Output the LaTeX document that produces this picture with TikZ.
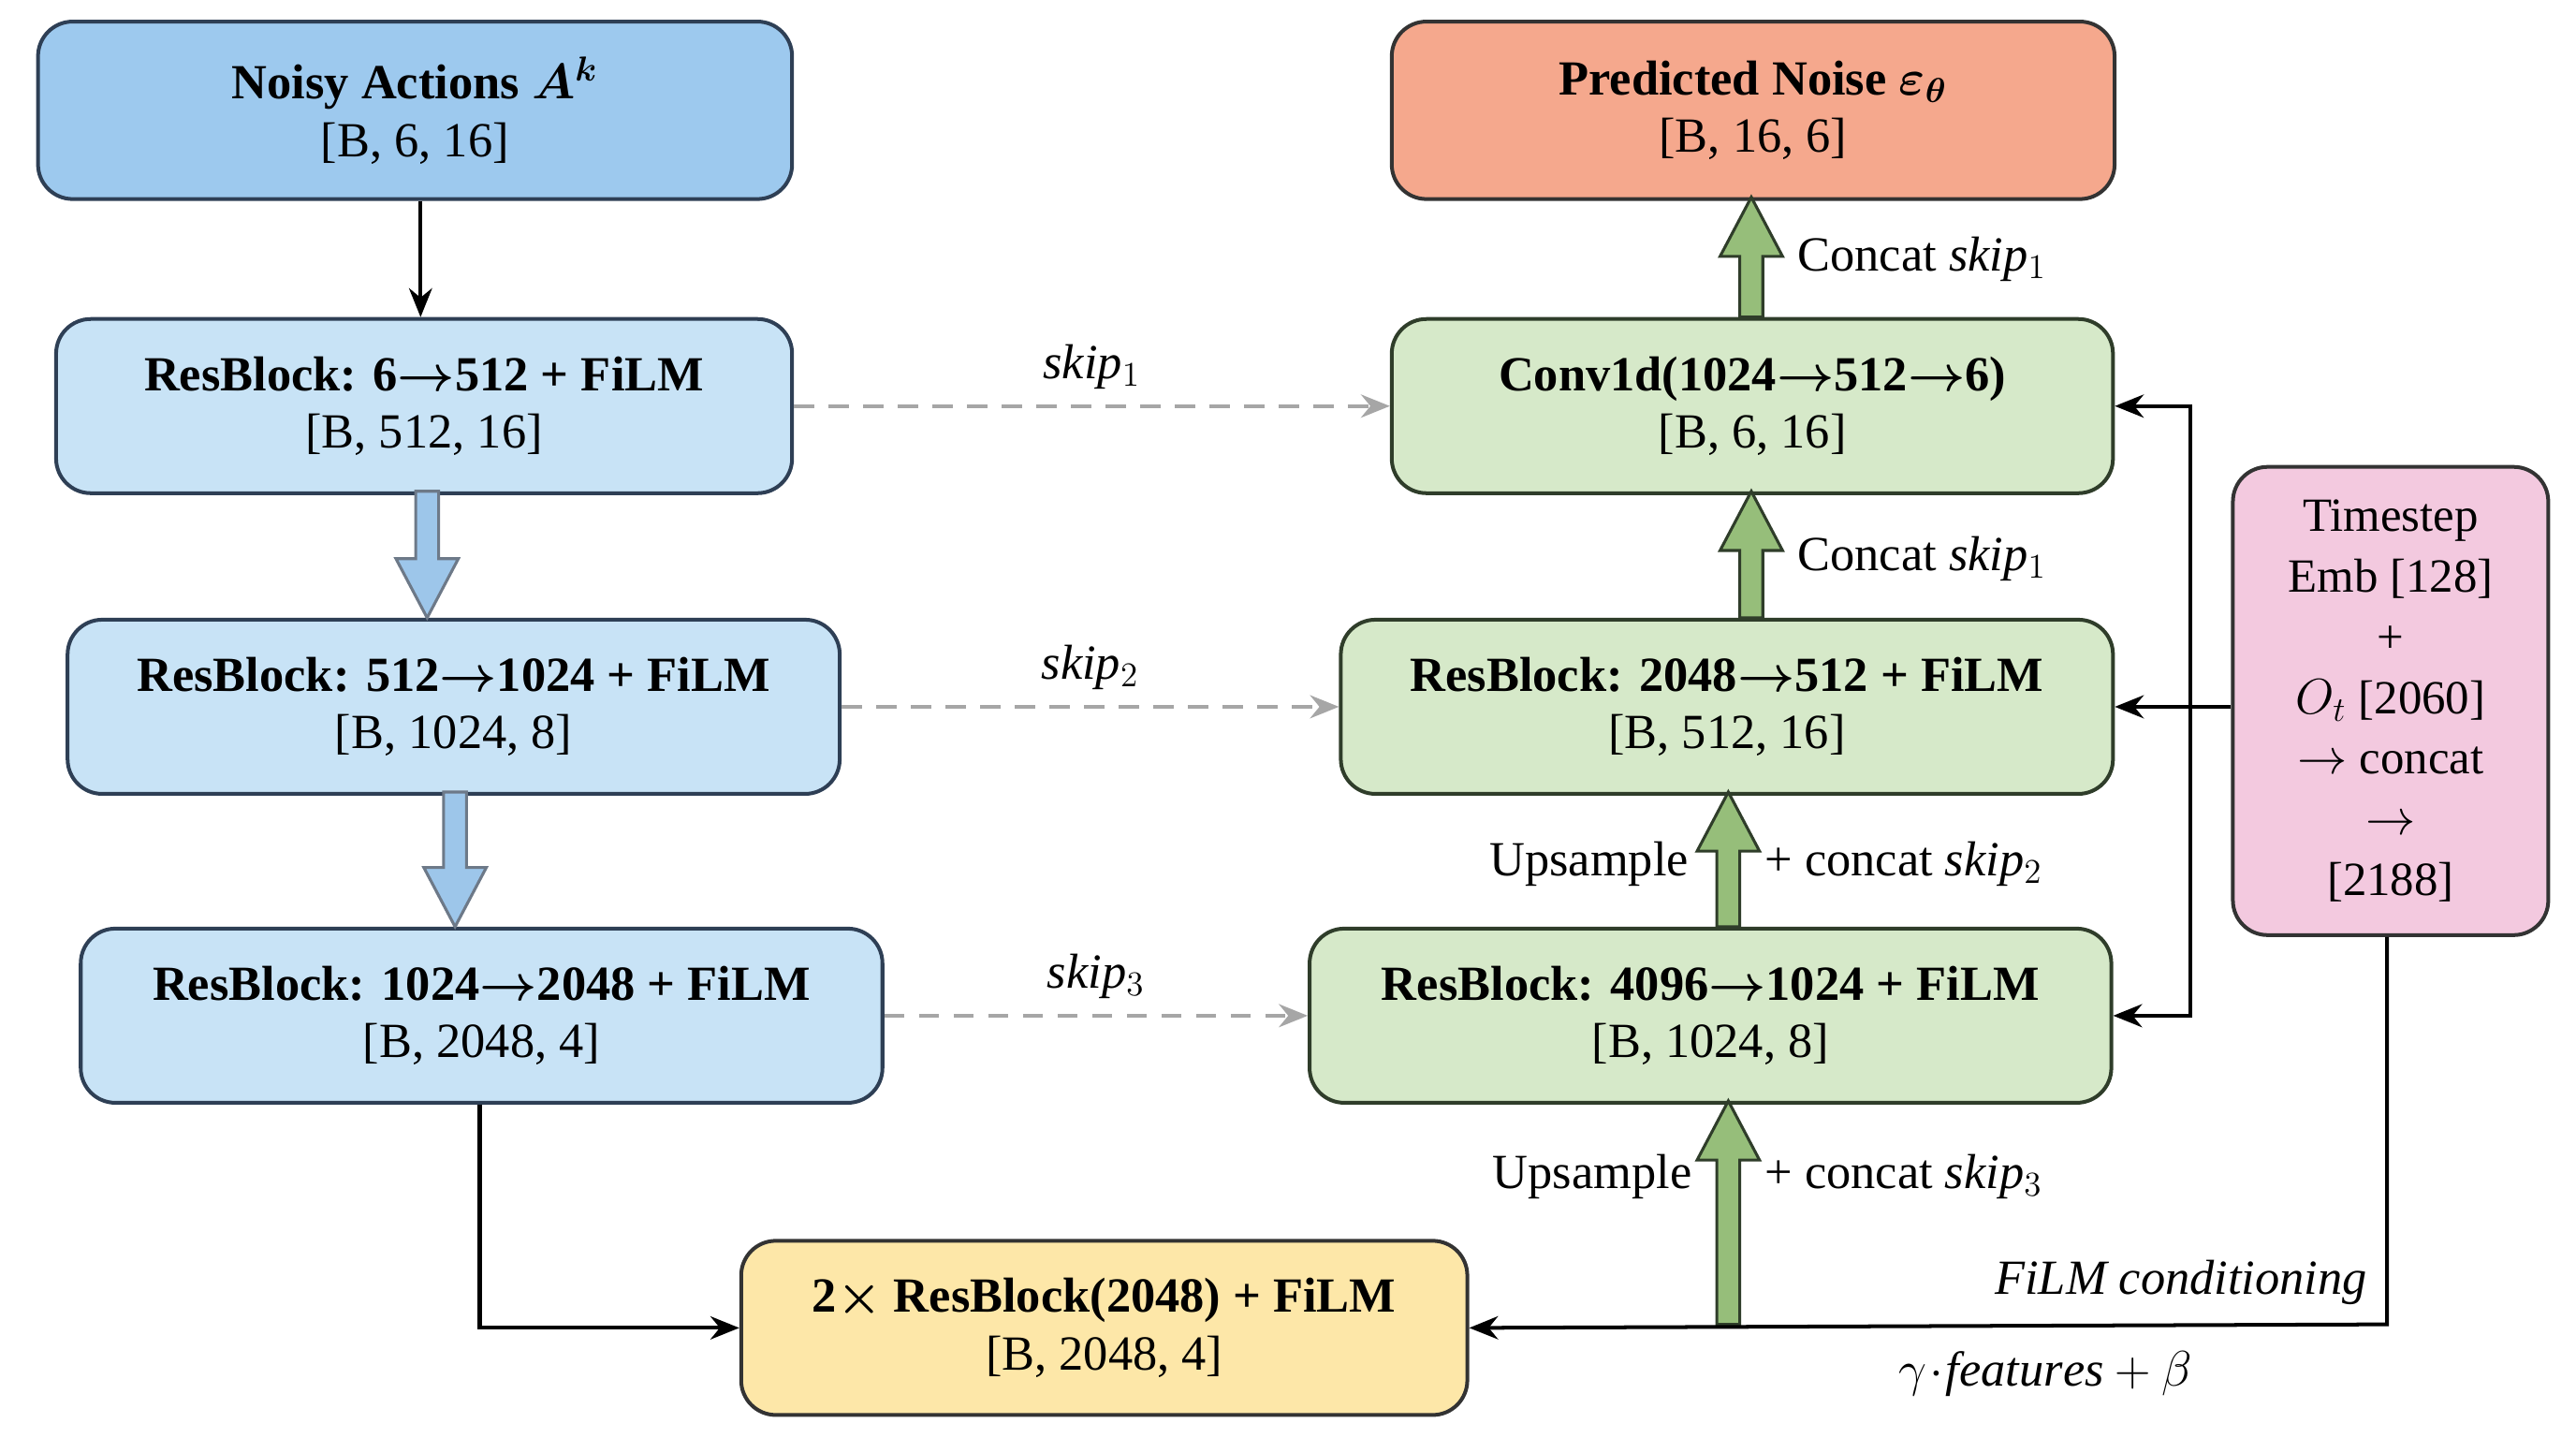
\documentclass[tikz,border=0pt]{standalone}
\usepackage{fontspec}
\usepackage{amsmath}
\setmainfont{Liberation Serif}
\usetikzlibrary{arrows.meta,positioning,calc}
\definecolor{bA}{HTML}{9DC9EE}
\definecolor{bB}{HTML}{C8E3F6}
\definecolor{bD}{HTML}{2E3F55}
\definecolor{gA}{HTML}{D6E9C9}
\definecolor{gD}{HTML}{2F3D2A}
\definecolor{rA}{HTML}{F5A88D}
\definecolor{yA}{HTML}{FDE7A8}
\definecolor{pA}{HTML}{F3C9DF}
\definecolor{fatB}{HTML}{9DC6EA}
\definecolor{fatG}{HTML}{96BE7A}
\begin{document}
\begin{tikzpicture}[x=0.02cm,y=-0.02cm,
  box/.style={draw=#1,line width=1.3pt,rounded corners=12pt,anchor=north west,inner sep=0pt,align=center,font=\fontsize{17}{20}\selectfont},
  conn/.style={line width=1.3pt,-{Stealth[length=10pt,width=8pt]}},
  skipc/.style={line width=1.3pt,gray!70,dash pattern=on 7pt off 5pt,-{Stealth[length=10pt,width=8pt]}},
  lab/.style={font=\fontsize{17}{20}\selectfont}]
\useasboundingbox (0,0) rectangle (1568,875);
\newcommand\mkbox[6]{\node[box=#6,fill=#5,minimum width={(#3-#1)*0.02cm},minimum height={(#4-#2)*0.02cm}] at (#1,#2)}
\mkbox{22}{12}{481}{120}{bA}{bD} (na) {\textbf{Noisy Actions \boldmath$A^k$}\\{}[B, 6, 16]};
\mkbox{33}{193}{481}{299}{bB}{bD} (e1) {\textbf{ResBlock: 6\boldmath$\rightarrow$512 + FiLM}\\{}[B, 512, 16]};
\mkbox{40}{376}{510}{482}{bB}{bD} (e2) {\textbf{ResBlock: 512\boldmath$\rightarrow$1024 + FiLM}\\{}[B, 1024, 8]};
\mkbox{48}{564}{536}{670}{bB}{bD} (e3) {\textbf{ResBlock: 1024\boldmath$\rightarrow$2048 + FiLM}\\{}[B, 2048, 4]};
\mkbox{450}{754}{892}{860}{yA}{black!80} (mid) {\textbf{2\boldmath$\times$ ResBlock(2048) + FiLM}\\{}[B, 2048, 4]};
\mkbox{846}{12}{1286}{120}{rA}{black!80} (out) {\textbf{Predicted Noise \boldmath$\varepsilon_\theta$}\\{}[B, 16, 6]};
\mkbox{846}{193}{1285}{299}{gA}{gD} (d1) {\textbf{Conv1d(1024\boldmath$\rightarrow$512$\rightarrow$6)}\\{}[B, 6, 16]};
\mkbox{815}{376}{1285}{482}{gA}{gD} (d2) {\textbf{ResBlock: 2048\boldmath$\rightarrow$512 + FiLM}\\{}[B, 512, 16]};
\mkbox{796}{564}{1284}{670}{gA}{gD} (d3) {\textbf{ResBlock: 4096\boldmath$\rightarrow$1024 + FiLM}\\{}[B, 1024, 8]};
\node[box=black!80,fill=pA,minimum width=3.84cm,minimum height=5.7cm,font=\fontsize{16.5}{21}\selectfont] at (1358,283) (ts)
 {Timestep\\Emb [128]\\+\\$O_t$ [2060]\\$\rightarrow$ concat\\$\rightarrow$\\{}[2188]};
% encoder arrows
\draw[conn] (na.south -| 256,0) -- (e1.north -| 256,0);
\newcommand\fat[6]{\filldraw[fill=#5,draw=#6,line width=1pt,line join=miter]
 (#1-#4,#2) -- (#1-#4,#3) -- (#1-2.4*#4,#3) -- (#1,{#3+(#3>#2?1:-1)*#4*0}) -- cycle;}
\newcommand\fatarr[5]{% x, ystart, yend(tip), color, border
 \pgfmathsetmacro\dir{(#3>#2)?1:-1}
 \filldraw[fill=#4,draw=#5,line width=1pt]
 (#1-7,#2) -- (#1-7,#3-\dir*36) -- (#1-19,#3-\dir*36) -- (#1,#3) -- (#1+19,#3-\dir*36) -- (#1+7,#3-\dir*36) -- (#1+7,#2) -- cycle;}
\fatarr{260}{299}{376}{fatB}{bD!70}
\fatarr{277}{482}{564}{fatB}{bD!70}
\draw[conn] (e3.south -| 292,0) |- (mid.west);
% skips
\draw[skipc] (e1.east) -- node[above=2pt,black,lab]{\textit{skip}$_1$} (d1.west);
\draw[skipc] (e2.east) -- node[above=2pt,black,lab]{\textit{skip}$_2$} (d2.west);
\draw[skipc] (e3.east) -- node[above=2pt,black,lab]{\textit{skip}$_3$} (d3.west);
% decoder fat arrows
\fatarr{1052}{806}{670}{fatG}{gD}
\fatarr{1052}{564}{482}{fatG}{gD}
\fatarr{1066}{376}{299}{fatG}{gD}
\fatarr{1066}{193}{120}{fatG}{gD}
\node[lab,anchor=east] at (1036,716) {Upsample};
\node[lab,anchor=west] at (1068,716) {+ concat \textit{skip}$_3$};
\node[lab,anchor=east] at (1034,526) {Upsample};
\node[lab,anchor=west] at (1068,526) {+ concat \textit{skip}$_2$};
\node[lab,anchor=west] at (1088,340) {Concat \textit{skip}$_1$};
\node[lab,anchor=west] at (1088,158) {Concat \textit{skip}$_1$};
% conditioning
\coordinate (tb) at (1453,806);
\draw[conn] (ts.west |- d2.east) -- (d2.east);
\draw[conn] (1333,429) |- (d1.east);
\draw[conn] (1333,429) |- (d3.east);
\draw[conn] (ts.south -| tb) -- (tb) -- (mid.east);
\node[lab,anchor=south east] at (1447,800) {\textit{FiLM conditioning}};
\node[lab] at (1245,836) {$\gamma\!\cdot\!\mathit{features}+\beta$};
\end{tikzpicture}
\end{document}
